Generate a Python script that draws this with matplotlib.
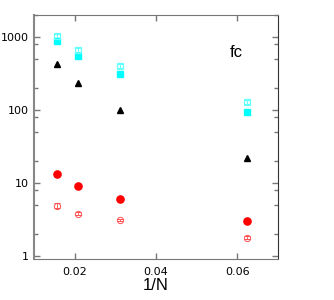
import numpy as np
import matplotlib
matplotlib.use('Agg')
import matplotlib.pyplot as plt
from matplotlib.ticker import LogLocator, NullFormatter, FixedLocator

# 1/N para N = 64, 48, 32, 16
inv_n = [1/64, 1/48, 1/32, 1/16]

cian_abierto = [1030, 660, 405, 130]
cian_lleno = [870, 550, 310, 95]
triangulos = [428, 236, 100, 22]
rojo_lleno = [13.3, 9.0, 6.1, 3.0]
rojo_abierto = [4.9, 3.8, 3.1, 1.78]

err_cian = [60, 40, 25, 8]
err_rojo = [0.35, 0.2, 0.12, 0.07]

fig = plt.figure(figsize=(3.34, 3.0), dpi=100)
ax = fig.add_axes([0.102, 0.138, 0.730, 0.812])

ax.errorbar(inv_n, cian_abierto, yerr=err_cian, fmt='s', mfc='none', mec='#66ffff',
            ecolor='#66ffff', ms=5, mew=0.9, capsize=2, elinewidth=0.7)
ax.plot(inv_n, cian_lleno, 's', color='cyan', ms=4.8)
ax.plot(inv_n, triangulos, '^', color='black', ms=4.5)
ax.plot(inv_n, rojo_lleno, 'o', color='red', ms=5.2)
ax.errorbar(inv_n, rojo_abierto, yerr=err_rojo, fmt='o', mfc='none', mec='#ff5050',
            ecolor='#ff5050', ms=4.5, mew=0.7, capsize=2, elinewidth=0.6)

ax.set_yscale('log')
ax.set_xlim(0.01, 0.07)
ax.set_ylim(0.92, 2000)
ax.set_xticks([0.02, 0.04, 0.06])
ax.set_xticklabels(['0.02', '0.04', '0.06'])
ax.set_yticks([1, 10, 100, 1000])
ax.set_yticklabels(['1', '10', '100', '1000'])
ax.yaxis.set_minor_locator(LogLocator(base=10, subs=[2, 5, 8]))
ax.yaxis.set_minor_formatter(NullFormatter())

ax.tick_params(which='both', direction='in', top=True, right=True,
               labelsize=8, color='#777777')
ax.tick_params(which='major', length=4, width=1)
ax.tick_params(which='minor', length=3, width=1)
ax.tick_params(axis='x', pad=6)

for lado in ['top', 'bottom']:
    ax.spines[lado].set_color('#777777')
ax.spines['left'].set_color('#888888')
ax.spines['left'].set_linewidth(1.5)
ax.spines['right'].set_color('#333333')

ax.set_xlabel('1/N', fontsize=12, family='Liberation Sans', labelpad=1)
ax.text(0.83, 0.845, 'fc', transform=ax.transAxes, fontsize=12,
        family='Liberation Sans', ha='center', va='center')

fig.savefig('out.png', dpi=100)
